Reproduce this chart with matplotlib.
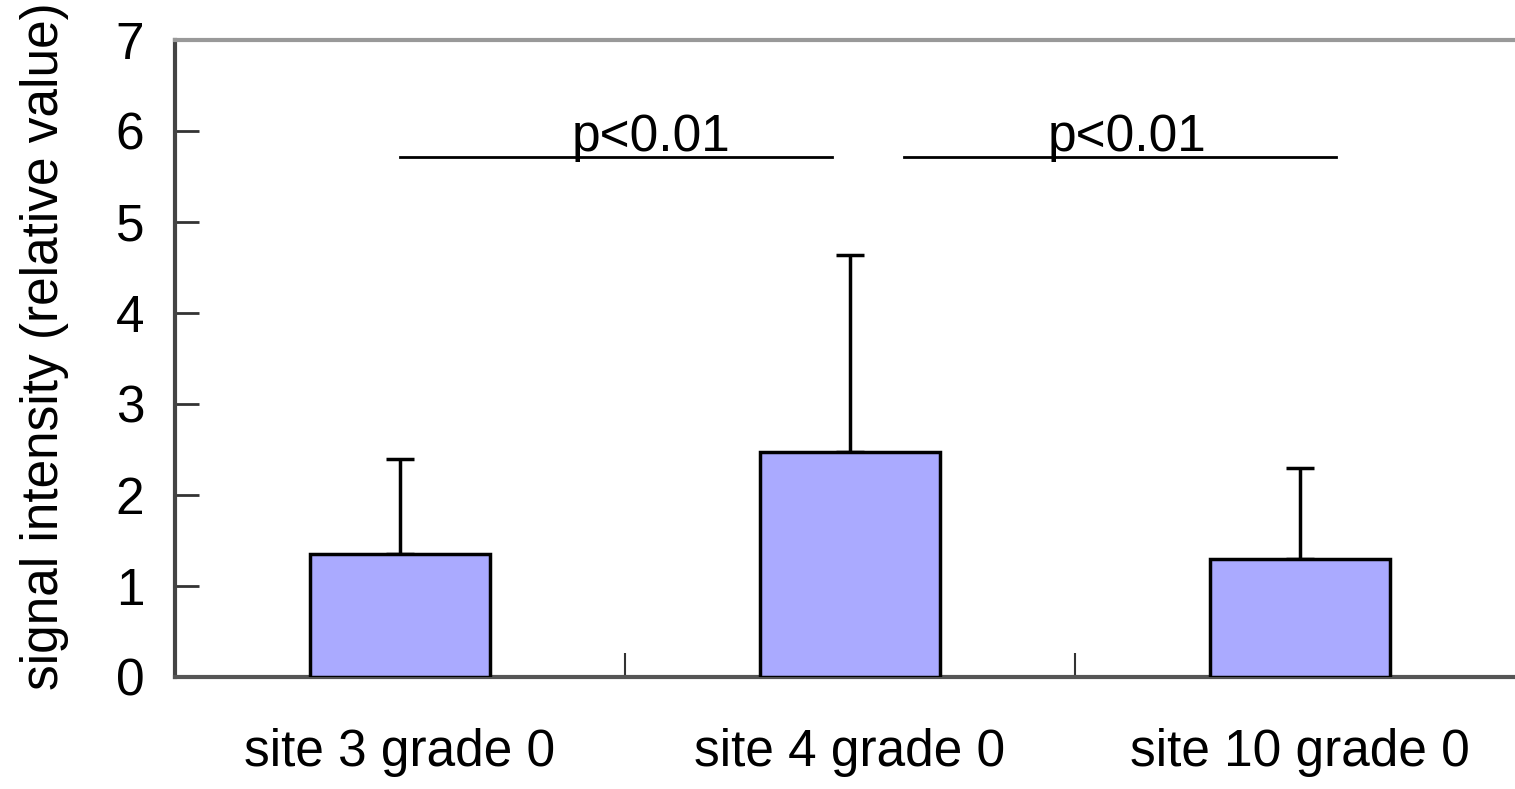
import numpy as np
import matplotlib
matplotlib.use('Agg')
from matplotlib import pyplot as plt

plt.rcParams['font.family'] = ['Liberation Sans', 'DejaVu Sans']

# --- data
categories = ['site 3 grade 0', 'site 4 grade 0', 'site 10 grade 0']
means = [1.35, 2.47, 1.30]
errors = [1.05, 2.17, 1.00]
yticks = [0, 1, 2, 3, 4, 5, 6, 7]
sig_labels = ['p<0.01', 'p<0.01']
sig_spans = [(0.0, 0.96), (1.12, 2.08)]
sig_text_x = [0.558, 1.616]
sig_height = 5.71

fs = 37

fig = plt.figure(figsize=(15.15, 7.89), dpi=100)
ax = fig.add_axes([175 / 1515, 1 - 677 / 789, 1340 / 1515, 637 / 789])

x = np.arange(len(categories))
ax.bar(x, means, width=0.4, color='#aaaaff', edgecolor='black', linewidth=2.5, zorder=3)
ax.errorbar(x, means, yerr=[np.zeros(len(errors)), errors], fmt='none', ecolor='black',
            elinewidth=2.5, capsize=10, capthick=2.5, zorder=2)

# significance bars
for (x0, x1), tx, lab in zip(sig_spans, sig_text_x, sig_labels):
    ax.plot([x0, x1], [sig_height, sig_height], color='black', linewidth=2)
    ax.text(tx, sig_height + 0.07, lab, ha='center', va='baseline', fontsize=fs)

ax.set_xlim(-0.5, 2.478)
ax.set_ylim(0, 7)
ax.set_yticks(yticks)
ax.set_yticklabels([str(t) for t in yticks], fontsize=fs)
ax.tick_params(axis='y', direction='in', length=17, width=2, color='#333333', pad=22)

# category boundary ticks on x axis
ax.set_xticks([0.5, 1.5], minor=True)
ax.set_xticks(x)
ax.set_xticklabels(categories, fontsize=fs)
ax.tick_params(axis='x', which='major', length=0, pad=37)
ax.tick_params(axis='x', which='minor', direction='in', length=17, width=1.5, color='#333333')

ax.spines['right'].set_visible(False)
ax.spines['top'].set_color('#999999')
ax.spines['top'].set_linewidth(3)
ax.spines['left'].set_color('#444444')
ax.spines['left'].set_linewidth(3)
ax.spines['bottom'].set_color('#555555')
ax.spines['bottom'].set_linewidth(3)

ax.set_ylabel('signal intensity (relative value)', fontsize=fs)
ax.yaxis.set_label_coords(-0.079, 0.52)

fig.savefig('out.png', dpi=100)
